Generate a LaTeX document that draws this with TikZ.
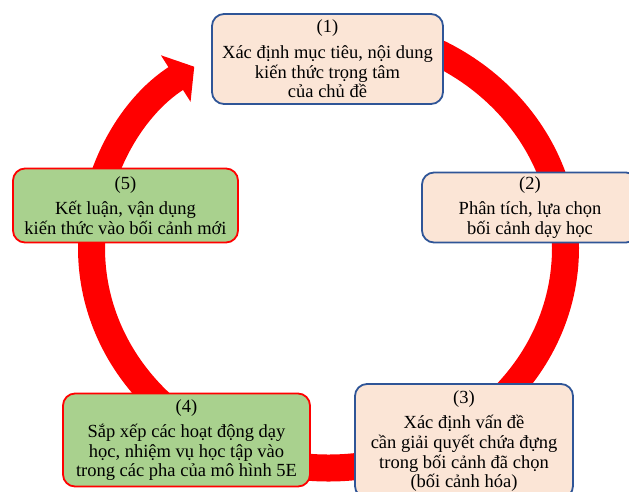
\documentclass[tikz,border=0pt]{standalone}
\usepackage{fontspec}
\setmainfont{Liberation Serif}
\usetikzlibrary{arrows.meta}
\definecolor{ringred}{HTML}{FF0000}
\definecolor{peach}{HTML}{FBE5D6}
\definecolor{stepblue}{HTML}{2F5597}
\definecolor{leafgreen}{HTML}{A9D18E}

\begin{document}
\begin{tikzpicture}[x=1pt,y=-1pt,
    box/.style={rounded corners=12pt, line width=1.8pt, align=center, inner sep=0pt,
      font=\fontsize{18.5}{19.6}\selectfont},
    planbox/.style={box, draw=stepblue, fill=peach},
    actbox/.style={box, draw=ringred, fill=leafgreen},
  ]
    \useasboundingbox (0,0) rectangle (629,491);
    \clip (0,0) rectangle (629,491);
    % the cycle behind the steps
    \coordinate (hub) at (328.5,248);
    \draw[ringred, line width=27pt, -{Triangle[length=22pt,width=54pt]}]
      (hub) ++(-90:237 and 220)
      arc[start angle=-90, end angle=235.5, x radius=237, y radius=220];
    % steps
    \node[planbox, minimum width=231pt, minimum height=90pt] (goal) at (327.5,59)
      {(1)\\[6pt]Xác định mục tiêu, nội dung\\kiến thức trọng tâm\\của chủ đề};
    \node[planbox, minimum width=216pt, minimum height=70pt] (context) at (530,207.5)
      {(2)\\[6pt]Phân tích, lựa chọn\\bối cảnh dạy học};
    \node[planbox, minimum width=218pt, minimum height=114pt] (issue) at (464,441)
      {(3)\\[6pt]Xác định vấn đề\\cần giải quyết chứa đựng\\trong bối cảnh đã chọn\\(bối cảnh hóa)};
    \node[actbox, minimum width=247pt, minimum height=93pt] (phases) at (186.5,440)
      {(4)\\[6pt]Sắp xếp các hoạt động dạy\\học, nhiệm vụ học tập vào\\trong các pha của mô hình 5E};
    \node[actbox, minimum width=225pt, minimum height=74pt] (apply) at (125.5,205.5)
      {(5)\\[6pt]Kết luận, vận dụng\\kiến thức vào bối cảnh mới};
\end{tikzpicture}
\end{document}
